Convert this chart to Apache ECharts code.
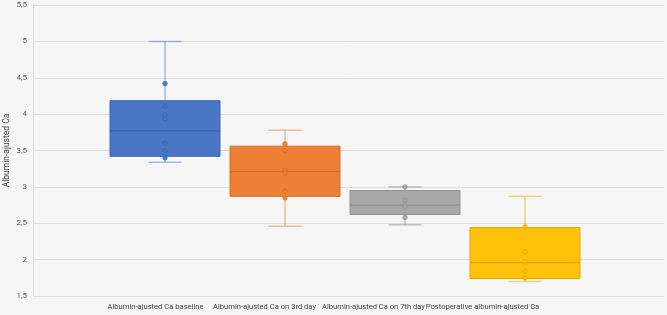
<!DOCTYPE html>
<html><head><meta charset="utf-8">
<script src="https://cdn.jsdelivr.net/npm/echarts@6/dist/echarts.min.js"></script>
<style>html,body{margin:0;padding:0;background:#f6f6f6}#c{width:667px;height:315px}</style>
</head><body><div id="c"></div>
<script>
var categories = ['Albumin-ajusted Ca baseline','Albumin-ajusted Ca on 3rd day','Albumin-ajusted Ca on 7th day','Postoperative albumin-ajusted Ca'];
// [whisker min, Q1, median, Q3, whisker max]
var statsBaseline = [3.34, 3.42, 3.77, 4.185, 5.0];
var statsDay3 = [2.46, 2.87, 3.21, 3.56, 3.78];
var statsDay7 = [2.48, 2.62, 2.75, 2.95, 3.00];
var statsPostop = [1.70, 1.74, 1.96, 2.44, 2.87];
var pointsBaseline = [4.42, 4.11, 3.99, 3.94, 3.60, 3.50, 3.40];
var pointsDay3 = [3.59, 3.50, 3.23, 3.19, 2.94, 2.85];
var pointsDay7 = [3.00, 2.815, 2.73, 2.58];
var pointsPostop = [2.45, 2.11, 1.97, 1.84, 1.75];
var yTicks = {min: 1.5, max: 5.5, interval: 0.5};

var colors = ['#4472C4', '#ED7D31', '#A5A5A5', '#FFC000'];
var darker = ['#3B63AC', '#CF6C2A', '#8F8F8F', '#DDA700'];
var whiskerCol = ['rgba(68,114,196,0.45)', 'rgba(237,125,49,0.5)', 'rgba(140,140,140,0.5)', 'rgba(230,175,0,0.5)'];
var stats = [statsBaseline, statsDay3, statsDay7, statsPostop];
var points = [pointsBaseline, pointsDay3, pointsDay7, pointsPostop];

var boxData = stats.map(function (s, i) { return [i].concat(s); });
var scatterData = [];
points.forEach(function (arr, i) { arr.forEach(function (v) { scatterData.push({value: [i, v], itemStyle: {color: colors[i], borderColor: darker[i]}}); }); });

var FONT = "Roboto, sans-serif";
var chart = echarts.init(document.getElementById('c'), null, {renderer: 'canvas'});
var hiddenY = function (gi) { return {type: 'value', gridIndex: gi, min: yTicks.min, max: yTicks.max, interval: yTicks.interval, show: false}; };
chart.setOption({
  backgroundColor: '#f6f6f6',
  animation: false,
  grid: [
    {left: 33, right: 3, top: 5, bottom: 19, outerBoundsMode: 'none', containLabel: false},
    {left: 105, width: 480, top: 5, bottom: 19, outerBoundsMode: 'none', containLabel: false},
    {left: 101, width: 436, top: 5, bottom: 19, outerBoundsMode: 'none', containLabel: false}
  ],
  xAxis: [
    {type: 'category', gridIndex: 0, data: categories, axisLine: {show: false}, axisTick: {show: false}, axisLabel: {show: false}},
    {type: 'category', gridIndex: 1, data: categories, show: false},
    {type: 'category', gridIndex: 2, data: categories, axisLine: {show: false}, axisTick: {show: false},
      axisLabel: {fontFamily: FONT, fontSize: 7.6, color: '#404040', margin: 7, interval: 0}}
  ],
  yAxis: [
    {type: 'value', gridIndex: 0, min: yTicks.min, max: yTicks.max, interval: yTicks.interval,
      name: 'Albumin-ajusted Ca', nameLocation: 'middle', nameGap: 22, nameRotate: 90, nameMoveOverlap: false,
      nameTextStyle: {fontFamily: FONT, fontSize: 8.5, color: '#404040'},
      axisLine: {show: true, lineStyle: {color: '#dcdcdc', width: 1}}, axisTick: {show: false},
      axisLabel: {fontFamily: FONT, fontSize: 8, color: '#595959', margin: 6,
        formatter: function (v) { return String(v).replace('.', ','); }},
      splitLine: {lineStyle: {color: '#dcdcdc', width: 1}}},
    hiddenY(1), hiddenY(2)
  ],
  series: [
    {type: 'custom', xAxisIndex: 1, yAxisIndex: 1, data: boxData, z: 2,
      renderItem: function (params, api) {
        var i = api.value(0);
        var band = api.size([1, 0])[0];
        var bw = band * 110 / 120, cw = band * 33 / 120;
        var pMin = api.coord([i, api.value(1)]), pQ1 = api.coord([i, api.value(2)]),
            pMed = api.coord([i, api.value(3)]), pQ3 = api.coord([i, api.value(4)]),
            pMax = api.coord([i, api.value(5)]);
        var x = pMed[0];
        var wl = {stroke: whiskerCol[i], lineWidth: 1.5};
        return {type: 'group', children: [
          {type: 'line', shape: {x1: x, y1: pQ3[1], x2: x, y2: pMax[1]}, style: wl},
          {type: 'line', shape: {x1: x, y1: pQ1[1], x2: x, y2: pMin[1]}, style: wl},
          {type: 'line', shape: {x1: x - cw / 2, y1: pMax[1], x2: x + cw / 2, y2: pMax[1]}, style: wl},
          {type: 'line', shape: {x1: x - cw / 2, y1: pMin[1], x2: x + cw / 2, y2: pMin[1]}, style: wl},
          {type: 'rect', shape: {x: x - bw / 2, y: pQ3[1], width: bw, height: pQ1[1] - pQ3[1]},
            style: {fill: colors[i], stroke: darker[i], lineWidth: 1, opacity: 0.97}},
          {type: 'line', shape: {x1: x - bw / 2, y1: pMed[1], x2: x + bw / 2, y2: pMed[1]},
            style: {stroke: darker[i], lineWidth: 1.2}}
        ]};
      }
    },
    {type: 'scatter', xAxisIndex: 1, yAxisIndex: 1, data: scatterData, symbol: 'circle', symbolSize: 4.5, z: 3,
      itemStyle: {borderWidth: 0.8, opacity: 0.9}}
  ]
});
</script></body></html>
